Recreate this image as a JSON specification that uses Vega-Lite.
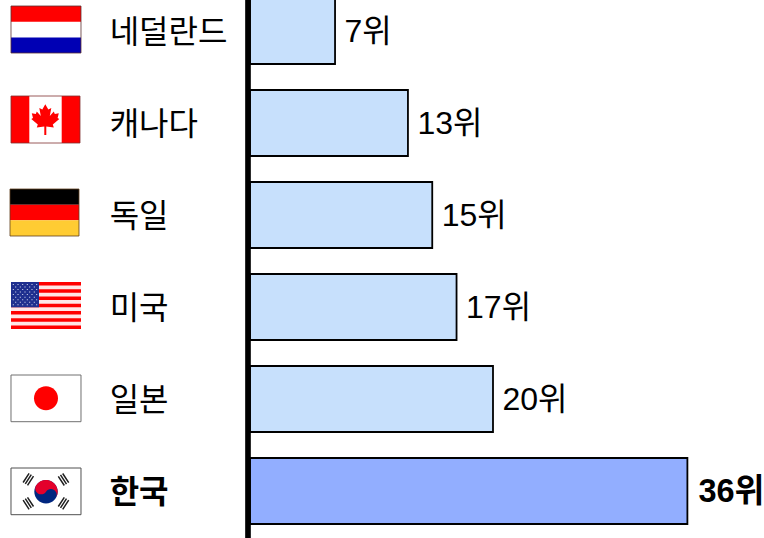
{"$schema":"https://vega.github.io/schema/vega-lite/v6.json","width":764,"height":538,"padding":0,"autosize":{"type":"none"},"background":"white","config":{"view":{"stroke":null}},
"data":{"values":[{"country":"네덜란드","rank":7,"label":"7위"},{"country":"캐나다","rank":13,"label":"13위"},{"country":"독일","rank":15,"label":"15위"},{"country":"미국","rank":17,"label":"17위"},{"country":"일본","rank":20,"label":"20위"},{"country":"한국","rank":36,"label":"36위"}]},
"layer":[
{"encoding":{"y":{"field":"country","type":"nominal","sort":null,"axis":null,"scale":{"domain":["네덜란드","캐나다","독일","미국","일본","한국"],"range":[-15,537],"paddingInner":0.2826,"paddingOuter":0.1413}}},
"layer":[
{"mark":{"type":"bar","stroke":"black","strokeWidth":1.8},"encoding":{"x":{"field":"rank","type":"quantitative","axis":null,"scale":{"domain":[-20.576,42.305],"nice":false,"zero":false}},"color":{"condition":{"test":"datum.country==='한국'","value":"#92AEFF"},"value":"#C7E0FC"}}},
{"transform":[{"filter":"datum.country!=='한국'"}],"mark":{"type":"text","align":"left","baseline":"middle","dx":9.5,"dy":1,"fontSize":32,"font":"Liberation Sans, Noto Sans CJK KR","color":"black"},"encoding":{"x":{"field":"rank","type":"quantitative","axis":null},"text":{"field":"label"}}},
{"transform":[{"filter":"datum.country==='한국'"}],"mark":{"type":"text","align":"left","baseline":"middle","dx":11,"dy":1,"fontSize":32.5,"fontWeight":"bold","font":"Liberation Sans, Noto Sans CJK KR","color":"black"},"encoding":{"x":{"field":"rank","type":"quantitative","axis":null},"text":{"field":"label"}}},
{"transform":[{"filter":"datum.country!=='한국'"}],"mark":{"type":"text","align":"left","baseline":"middle","dy":2,"fontSize":32,"font":"Noto Sans CJK KR","color":"black"},"encoding":{"x":{"datum":-11.55,"type":"quantitative","axis":null},"text":{"field":"country"}}},
{"transform":[{"filter":"datum.country==='한국'"}],"mark":{"type":"text","align":"left","baseline":"middle","dy":2,"fontSize":32,"fontWeight":"bold","font":"Noto Sans CJK KR","color":"black"},"encoding":{"x":{"datum":-11.55,"type":"quantitative","axis":null},"text":{"field":"country"}}},
{"encoding":{"x":{"datum":-16.79,"type":"quantitative","axis":null}},"layer":[
{"transform":[{"filter":"datum.country==='네덜란드'"}],"mark":{"type":"point","size":4,"opacity":1,"filled":true,"fill":"#FFFFFF","stroke":null,"shape":"M-35 -25H35V22H-35Z"}},
{"transform":[{"filter":"datum.country==='네덜란드'"}],"mark":{"type":"point","size":4,"opacity":1,"filled":true,"fill":"#FF0000","stroke":null,"shape":"M-35 -25H35V-9.3H-35Z"}},
{"transform":[{"filter":"datum.country==='네덜란드'"}],"mark":{"type":"point","size":4,"opacity":1,"filled":true,"fill":"#0000B4","stroke":null,"shape":"M-35 6.4H35V22H-35Z"}},
{"transform":[{"filter":"datum.country==='네덜란드'"}],"mark":{"type":"point","size":4,"opacity":1,"filled":false,"stroke":"#5A3030","strokeWidth":0.8,"shape":"M-35 -25H35V22H-35Z"}},

{"transform":[{"filter":"datum.country==='캐나다'"}],"mark":{"type":"point","size":4,"opacity":1,"filled":true,"fill":"#FFFFFF","stroke":null,"shape":"M-35 -27H34V20H-35Z"}},
{"transform":[{"filter":"datum.country==='캐나다'"}],"mark":{"type":"point","size":4,"opacity":1,"filled":true,"fill":"#FF0000","stroke":null,"shape":"M-35 -27H-16.7V20H-35ZM15.7 -27H34V20H15.7ZM-0.7 -18.7L2.3 -13.5L5.3 -15L3.8 -7L7.8 -11.5L8.8 -9L12.8 -9.7L11.6 -5L13.3 -4L6.8 1.5L7.8 4.5L0.3 3.5L0.3 12L-1.7 12L-1.7 3.5L-9.2 4.5L-8.2 1.5L-14.7 -4L-13 -5L-14.2 -9.7L-10.2 -9L-9.2 -11.5L-5.2 -7L-6.7 -15L-3.7 -13.5Z"}},
{"transform":[{"filter":"datum.country==='캐나다'"}],"mark":{"type":"point","size":4,"opacity":1,"filled":false,"stroke":"#803030","strokeWidth":0.8,"shape":"M-35 -27H34V20H-35Z"}},

{"transform":[{"filter":"datum.country==='독일'"}],"mark":{"type":"point","size":4,"opacity":1,"filled":true,"fill":"#000000","stroke":null,"shape":"M-36 -26H33V-10.3H-36Z"}},
{"transform":[{"filter":"datum.country==='독일'"}],"mark":{"type":"point","size":4,"opacity":1,"filled":true,"fill":"#FF0000","stroke":null,"shape":"M-36 -10.3H33V5.3H-36Z"}},
{"transform":[{"filter":"datum.country==='독일'"}],"mark":{"type":"point","size":4,"opacity":1,"filled":true,"fill":"#FFCC33","stroke":null,"shape":"M-36 5.3H33V21H-36Z"}},
{"transform":[{"filter":"datum.country==='독일'"}],"mark":{"type":"point","size":4,"opacity":1,"filled":false,"stroke":"#604020","strokeWidth":0.8,"shape":"M-36 -26H33V21H-36Z"}},

{"transform":[{"filter":"datum.country==='미국'"}],"mark":{"type":"point","size":4,"opacity":1,"filled":true,"fill":"#FFE6E6","stroke":null,"shape":"M-35 -25H35V22H-35Z"}},
{"transform":[{"filter":"datum.country==='미국'"}],"mark":{"type":"point","size":4,"opacity":1,"filled":true,"fill":"#FF0000","stroke":null,"shape":"M-35 -25H35V-21.4H-35ZM-35 -17.8H35V-14.2H-35ZM-35 -10.5H35V-6.9H-35ZM-35 -3.3H35V0.3H-35ZM-35 3.9H35V7.5H-35ZM-35 11.2H35V14.8H-35ZM-35 18.4H35V22H-35Z"}},
{"transform":[{"filter":"datum.country==='미국'"}],"mark":{"type":"point","size":4,"opacity":1,"filled":true,"fill":"#1F2F8F","stroke":null,"shape":"M-35 -25H-7V0.3H-35Z"}},
{"transform":[{"filter":"datum.country==='미국'"}],"mark":{"type":"point","size":4,"opacity":1,"filled":true,"fill":"#DDE0F0","stroke":null,"shape":"M-33.2 -23h1v1h-1zM-28.5 -23h1v1h-1zM-23.8 -23h1v1h-1zM-19.2 -23h1v1h-1zM-14.5 -23h1v1h-1zM-9.8 -23h1v1h-1zM-30.8 -20.4h1v1h-1zM-26.2 -20.4h1v1h-1zM-21.5 -20.4h1v1h-1zM-16.8 -20.4h1v1h-1zM-12.2 -20.4h1v1h-1zM-33.2 -17.9h1v1h-1zM-28.5 -17.9h1v1h-1zM-23.8 -17.9h1v1h-1zM-19.2 -17.9h1v1h-1zM-14.5 -17.9h1v1h-1zM-9.8 -17.9h1v1h-1zM-30.8 -15.4h1v1h-1zM-26.2 -15.4h1v1h-1zM-21.5 -15.4h1v1h-1zM-16.8 -15.4h1v1h-1zM-12.2 -15.4h1v1h-1zM-33.2 -12.9h1v1h-1zM-28.5 -12.9h1v1h-1zM-23.8 -12.9h1v1h-1zM-19.2 -12.9h1v1h-1zM-14.5 -12.9h1v1h-1zM-9.8 -12.9h1v1h-1zM-30.8 -10.3h1v1h-1zM-26.2 -10.3h1v1h-1zM-21.5 -10.3h1v1h-1zM-16.8 -10.3h1v1h-1zM-12.2 -10.3h1v1h-1zM-33.2 -7.8h1v1h-1zM-28.5 -7.8h1v1h-1zM-23.8 -7.8h1v1h-1zM-19.2 -7.8h1v1h-1zM-14.5 -7.8h1v1h-1zM-9.8 -7.8h1v1h-1zM-30.8 -5.3h1v1h-1zM-26.2 -5.3h1v1h-1zM-21.5 -5.3h1v1h-1zM-16.8 -5.3h1v1h-1zM-12.2 -5.3h1v1h-1zM-33.2 -2.7h1v1h-1zM-28.5 -2.7h1v1h-1zM-23.8 -2.7h1v1h-1zM-19.2 -2.7h1v1h-1zM-14.5 -2.7h1v1h-1zM-9.8 -2.7h1v1h-1z"}},

{"transform":[{"filter":"datum.country==='일본'"}],"mark":{"type":"point","size":4,"opacity":1,"filled":true,"fill":"#FFFFFF","stroke":"#707070","strokeWidth":1,"shape":"M-35 -24H35V22.7H-35Z"}},
{"transform":[{"filter":"datum.country==='일본'"}],"mark":{"type":"point","size":4,"opacity":1,"filled":true,"fill":"#FF0000","stroke":null,"shape":"M-12 -0.7A12 12 0 1 1 12 -0.7A12 12 0 1 1 -12 -0.7Z"}},

{"transform":[{"filter":"datum.country==='한국'"}],"mark":{"type":"point","size":4,"opacity":1,"filled":true,"fill":"#FFFFFF","stroke":"#505050","strokeWidth":1,"shape":"M-35 -23H35V23.7H-35Z"}},
{"transform":[{"filter":"datum.country==='한국'"}],"mark":{"type":"point","size":4,"opacity":1,"filled":true,"fill":"#00267F","stroke":null,"shape":"M-11.7 0.7A11.7 11.7 0 1 1 11.7 0.7A11.7 11.7 0 1 1 -11.7 0.7Z"}},
{"transform":[{"filter":"datum.country==='한국'"}],"mark":{"type":"point","size":4,"opacity":1,"filled":true,"fill":"#E4002B","stroke":null,"shape":"M-9.8 -5.7A11.7 11.7 0 0 1 9.8 7.1A5.85 5.85 0 0 0 0 0.7A5.85 5.85 0 0 1 -9.8 -5.7Z"}},
{"transform":[{"filter":"datum.country==='한국'"}],"mark":{"type":"point","size":4,"opacity":1,"filled":false,"stroke":"#202020","strokeWidth":1.5,"shape":"M-20.7 -7.1L-14.7 -16.3M-22.9 -8.5L-16.9 -17.7M-18.5 -5.7L-12.5 -14.9M14.5 -16.1L20.5 -6.9M16.7 -17.5L22.7 -8.3M12.3 -14.7L18.3 -5.5M-20.7 7.7L-14.7 16.9M-22.9 9.1L-16.9 18.3M-18.5 6.3L-12.5 15.5M14.5 16.9L20.5 7.7M16.7 18.3L22.7 9.1M12.3 15.5L18.3 6.3"}}
]}
]},
{"mark":{"type":"rule","color":"black","strokeWidth":4.5,"xOffset":-2},"encoding":{"x":{"datum":0,"type":"quantitative","axis":null}}}
]}
